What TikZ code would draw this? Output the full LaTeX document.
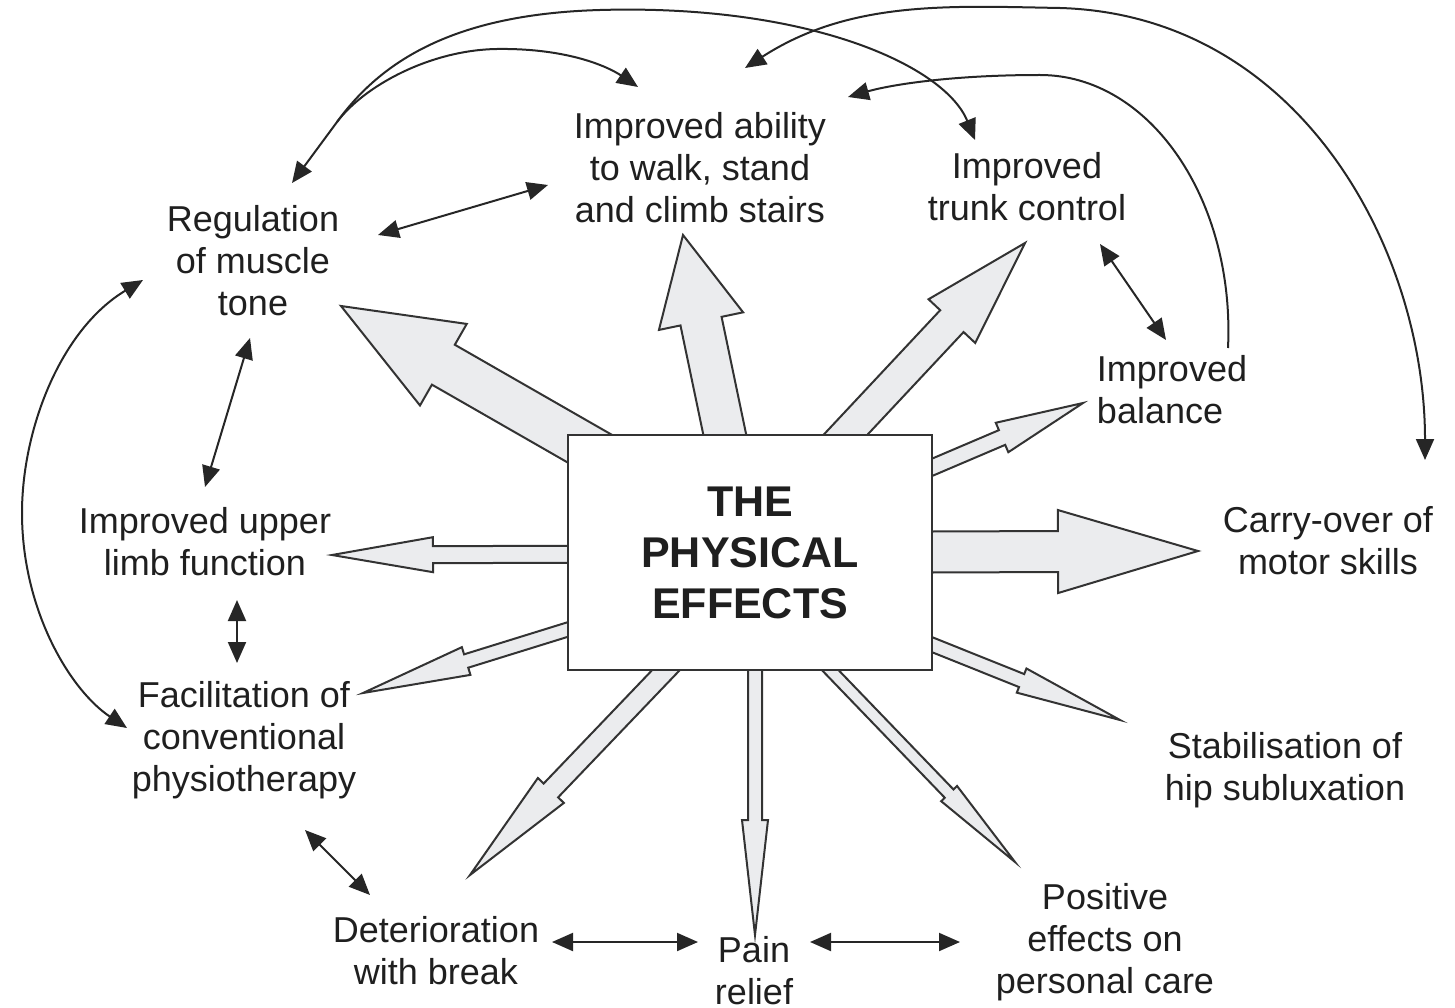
\documentclass[tikz,border=0pt]{standalone}
\usepackage{fontspec}
\setmainfont{Liberation Sans}
\usetikzlibrary{arrows.meta,calc,backgrounds}
\definecolor{arrowfill}{HTML}{EBECEE}
\definecolor{inkgray}{HTML}{333333}

% block arrow: start, tip, shaft half width, head half width, head length
\newcommand{\effectarrow}[5]{%
  \coordinate (ea) at #1;
  \coordinate (eb) at #2;
  \coordinate (hb) at ($(eb)!#5pt!(ea)$);
  \draw[blockarr] ($(ea)!#3pt!90:(eb)$) -- ($(hb)!#3pt!90:(eb)$) -- ($(hb)!#4pt!90:(eb)$) -- (eb)
    -- ($(hb)!#4pt!-90:(eb)$) -- ($(hb)!#3pt!-90:(eb)$) -- ($(ea)!#3pt!-90:(eb)$) -- cycle;
}

\begin{document}
\begin{tikzpicture}[x=1pt,y=-1pt,
    lbl/.style={font=\fontsize{36}{42}\selectfont, align=center, inner sep=0pt, text=black!88},
    mainbox/.style={draw=inkgray, fill=white, line width=2.5pt, minimum width=364pt, minimum height=235pt,
      align=center, inner sep=0pt, font=\fontsize{43}{51}\selectfont\bfseries, text=black!88},
    blockarr/.style={draw=inkgray, fill=arrowfill, line width=2pt},
    twoway/.style={{Triangle[length=21pt,width=18pt]}-{Triangle[length=21pt,width=18pt]}, line width=2pt, draw=black!85},
    oneway/.style={-{Triangle[length=21pt,width=18pt]}, line width=2pt, draw=black!85}]
  \useasboundingbox (0,0) rectangle (1455,1008);

  % effects round the box
  \node[lbl] (walk)  at (700,168)  {Improved ability\\to walk, stand\\and climb stairs};
  \node[lbl] (trunk) at (1027,187) {Improved\\trunk control};
  \node[lbl] (reg)   at (253,261)  {Regulation\\of muscle\\tone};
  \node[lbl, align=left] (bal) at (1172,390) {Improved\\balance};
  \node[lbl] (upper) at (205,542)  {Improved upper\\limb function};
  \node[lbl] (facil) at (244,740)  {Facilitation of\\conventional\\physiotherapy};
  \node[lbl] (deter) at (436,951)  {Deterioration\\with break};
  \node[lbl] (pain)  at (754,971)  {Pain\\relief};
  \node[lbl] (pos)   at (1105,942) {Positive\\effects on\\personal care};
  \node[lbl] (carry) at (1328,541) {Carry-over of\\motor skills};
  \node[lbl] (stab)  at (1285,770) {Stabilisation of\\hip subluxation};

  \node[mainbox] (box) at (750,552.5) {THE\\PHYSICAL\\EFFECTS};

  \begin{pgfonlayer}{background}
    \effectarrow{([shift={(-123,-82.5)}]box.center)}{([shift={(88,45)}]reg.center)}{23}{47}{118}
    \effectarrow{([shift={(-5.5,-23.5)}]box.center)}{([shift={(-17,67)}]walk.center)}{21}{43}{88}
    \effectarrow{([shift={(70,-90.5)}]box.center)}{([shift={(-2,56)}]trunk.center)}{16}{32}{107}
    \effectarrow{([shift={(103,-51.5)}]box.center)}{([shift={(-89,13)}]bal.center)}{8}{16}{88}
    \effectarrow{([shift={(50,0)}]box.center)}{([shift={(-130,10)}]carry.center)}{20.5}{41.5}{140}
    \effectarrow{([shift={(138,74.5)}]box.center)}{([shift={(-165,-50)}]stab.center)}{7}{13}{106}
    \effectarrow{([shift={(57,93.5)}]box.center)}{([shift={(-90,-80)}]pos.center)}{6}{11}{95}
    \effectarrow{([shift={(5,47.5)}]box.center)}{([shift={(1,-36)}]pain.center)}{7}{13}{115}
    \effectarrow{([shift={(-38,69.5)}]box.center)}{([shift={(34,-76)}]deter.center)}{10}{18}{117}
    \effectarrow{([shift={(-100,51.5)}]box.center)}{([shift={(119,-47)}]facil.center)}{7}{14.5}{108}
    \effectarrow{([shift={(-100,1.5)}]box.center)}{([shift={(127,13)}]upper.center)}{8.5}{17.5}{101}
  \end{pgfonlayer}

  % links between the effects
  \draw[twoway] ([shift={(125,-26)}]reg.center) -- ([shift={(-152,17)}]walk.center);
  \draw[twoway] ([shift={(-3,77)}]reg.center) -- ([shift={(0,-55)}]upper.center);
  \draw[twoway] ([shift={(32,58)}]upper.center) -- ([shift={(-7,-77)}]facil.center);
  \draw[twoway] ([shift={(61,90)}]facil.center) -- ([shift={(-66,-56)}]deter.center);
  \draw[twoway] ([shift={(116,-9)}]deter.center) -- ([shift={(-56,-29)}]pain.center);
  \draw[twoway] ([shift={(56,-29)}]pain.center) -- ([shift={(-145,0)}]pos.center);
  \draw[twoway] ([shift={(73,57)}]trunk.center) -- ([shift={(-6,-50)}]bal.center);

  \coordinate (fork) at (337,122);
  \draw[twoway] ([shift={(39,-78)}]reg.center) -- (fork) .. controls (364,86) and (430,50) .. (497,49)
    .. controls (570,48) and (610,68) .. ([shift={(-62,-81)}]walk.center);
  \draw[oneway] (fork) .. controls (384,57) and (460,14) .. (600,10)
    .. controls (810,4) and (945,66) .. ([shift={(-52,-47)}]trunk.center);
  \draw[twoway] ([shift={(45,-100)}]walk.center) .. controls (850,0) and (950,6) .. (1060,8)
    .. controls (1300,15) and (1425,250) .. ([shift={(97,-81)}]carry.center);
  \draw[oneway] ([shift={(56,-42)}]bal.center) .. controls (1235,200) and (1150,75) .. (1040,75)
    .. controls (950,75) and (890,85) .. ([shift={(148,-71)}]walk.center);
  \draw[twoway] ([shift={(-110,19)}]reg.center) .. controls (60,330) and (22,430) .. (22,513)
    .. controls (22,610) and (70,690) .. ([shift={(-117,-12)}]facil.center);
\end{tikzpicture}
\end{document}
